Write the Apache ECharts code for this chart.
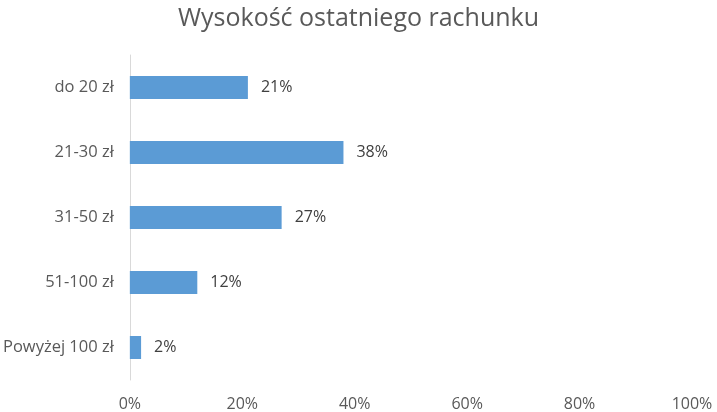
<!DOCTYPE html>
<html><head><meta charset="utf-8">
<script src="https://cdn.jsdelivr.net/npm/echarts@6/dist/echarts.min.js"></script>
<style>html,body{margin:0;padding:0;background:#fff}#c{width:717px;height:412px}</style>
</head><body><div id="c"></div>
<script>
const title = 'Wysokość ostatniego rachunku';
const categories = ['do 20 zł', '21-30 zł', '31-50 zł', '51-100 zł', 'Powyżej 100 zł'];
const values = [21, 38, 27, 12, 2];
const xTicks = [0, 20, 40, 60, 80, 100];
const font = '"Open Sans", sans-serif';
const chart = echarts.init(document.getElementById('c'), null, {renderer: 'canvas'});
chart.setOption({
  animation: false,
  title: {text: title, left: 'center', top: 1,
    textStyle: {fontFamily: font, fontSize: 25, fontWeight: 'normal', color: '#595959'}},
  grid: {left: 129.5, right: 25, top: 55, bottom: 32, containLabel: false},
  xAxis: {type: 'value', min: xTicks[0], max: xTicks[xTicks.length - 1], interval: 20,
    axisLine: {show: false}, axisTick: {show: false}, splitLine: {show: false},
    axisLabel: {formatter: v => v + '%', fontFamily: font, fontSize: 16, color: '#595959', margin: 16}},
  yAxis: {type: 'category', data: categories, inverse: true,
    axisLine: {show: true, lineStyle: {color: '#d9d9d9', width: 1}}, axisTick: {show: false},
    axisLabel: {fontFamily: font, fontSize: 16.5, color: '#595959', margin: 16}},
  series: [{type: 'bar', data: values, barWidth: 23,
    itemStyle: {color: '#5b9bd5'},
    label: {show: true, position: 'right', distance: 13, formatter: p => p.value + '%',
      fontFamily: font, fontSize: 16, color: '#404040'}}]
});
</script></body></html>
